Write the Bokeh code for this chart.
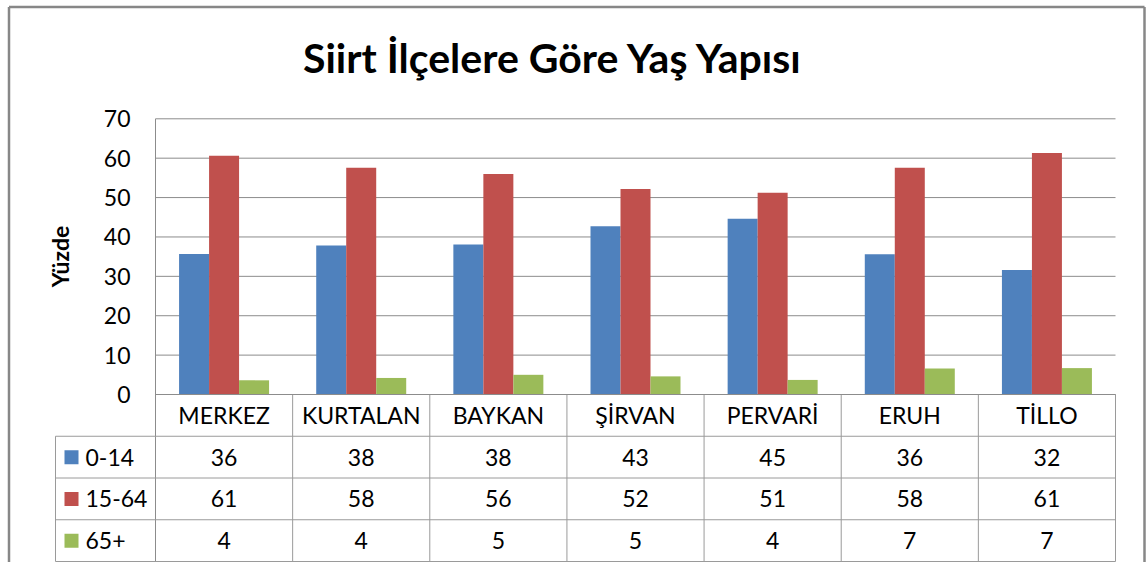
from bokeh.plotting import figure
from bokeh.models import Range1d
from bokeh.embed import file_html
from bokeh.resources import INLINE
from bokeh.core.properties import value

# ---------------- data ----------------
title_text = "Siirt İlçelere Göre Yaş Yapısı"
y_label = "Yüzde"
districts = ["MERKEZ", "KURTALAN", "BAYKAN", "ŞİRVAN", "PERVARİ", "ERUH", "TİLLO"]
series_names = ["0-14", "15-64", "65+"]
age_0_14 = [35.7, 37.8, 38.1, 42.7, 44.6, 35.6, 31.6]
age_15_64 = [60.6, 57.6, 56.0, 52.2, 51.2, 57.6, 61.3]
age_65_plus = [3.6, 4.2, 5.0, 4.6, 3.7, 6.6, 6.7]
y_ticks = [0, 10, 20, 30, 40, 50, 60, 70]
colors = ["#4F81BD", "#C0504D", "#9BBB59"]

series_values = [age_0_14, age_15_64, age_65_plus]

# ---------------- layout (pixels) ----------------
W, H = 1146, 562
OFF = 0
PL, PR, PT, PB = 155, 1115, 118.3, 394   # plot area in picture px (PT at y=70, PB at y=0)
TABLE_LEFT = 55
TROW = 41.75
YMAX = 70
COL = (PR - PL) / len(districts)
VAL = (PB - PT) / YMAX


def X(px):
    return (px - PL) / COL


def Y(py):
    return (PB - py) / VAL


p = figure(width=W, height=H, output_backend="svg", toolbar_location=None,
           x_axis_type=None, y_axis_type=None, min_border=0,
           x_range=Range1d(X(OFF), X(OFF + W)), y_range=Range1d(Y(OFF + H), Y(OFF)))
p.outline_line_color = None
p.background_fill_color = "white"
p.border_fill_color = "white"

FONT = value("Lato")
GRID = "#8C8C8C"
TLINE = "#9A9A9A"
BORDER = "#878787"

n = len(districts)
centers = [i + 0.5 for i in range(n)]

# chart-area border (left, top, right)
bl, bt, br, bb = X(8.5), Y(6.5), X(1144), Y(OFF + H + 10)
p.segment(x0=[bl, bl, br], x1=[bl, br, br], y0=[bb, bt, bt], y1=[bt, bt, bb],
          line_color=BORDER, line_width=2.5)

# gridlines
p.segment(x0=[0] * len(y_ticks), x1=[n] * len(y_ticks), y0=y_ticks, y1=y_ticks,
          line_color=GRID, line_width=1)

# bars
bar_w = 30 / COL
for k, (vals, col) in enumerate(zip(series_values, colors)):
    off = (k - 1) * bar_w
    p.vbar(x=[c + off for c in centers], top=vals, bottom=0, width=bar_w,
           fill_color=col, line_color=None)

# y tick labels
p.text(x=[X(130)] * len(y_ticks), y=y_ticks, text=[str(t) for t in y_ticks],
       text_align="right", text_baseline="middle", text_font=FONT,
       text_font_size="23px", text_color="#000000")

# y axis title
p.text(x=[X(59)], y=[Y(256)], text=[y_label], angle=1.5707963,
       text_align="center", text_baseline="middle", text_font=FONT,
       text_font_size="23px", text_font_style="bold", text_color="#000000")

# title
p.text(x=[X(553)], y=[Y(57)], text=[title_text], text_align="center",
       text_baseline="middle", text_font=FONT, text_font_size="41px",
       text_font_style="bold", text_color="#000000")

# ---------------- data table ----------------
row_bounds = [Y(PB + k * TROW) for k in range(5)]
bottom = row_bounds[-1]
# vertical axis line (plot + table)
p.segment(x0=[0], x1=[0], y0=[YMAX], y1=[bottom], line_color=GRID, line_width=1)
# column separators
p.segment(x0=list(range(1, n + 1)), x1=list(range(1, n + 1)),
          y0=[0] * n, y1=[bottom] * n, line_color=TLINE, line_width=1)
# left edge of label column
p.segment(x0=[X(TABLE_LEFT)], x1=[X(TABLE_LEFT)], y0=[row_bounds[1]], y1=[bottom],
          line_color=TLINE, line_width=1)
# horizontal lines
p.segment(x0=[0], x1=[n], y0=[0], y1=[0], line_color=GRID, line_width=1)
p.segment(x0=[X(TABLE_LEFT)] * 4, x1=[n] * 4, y0=row_bounds[1:], y1=row_bounds[1:],
          line_color=TLINE, line_width=1)

# header: district names
hdr_y = (row_bounds[0] + row_bounds[1]) / 2
p.text(x=centers, y=[hdr_y] * n, text=districts, text_align="center",
       text_baseline="middle", text_font=FONT, text_font_size="23px",
       text_color="#000000")

# series rows
for k, (name, vals, col) in enumerate(zip(series_names, series_values, colors)):
    ry = (row_bounds[k + 1] + row_bounds[k + 2]) / 2
    p.text(x=centers, y=[ry] * n, text=[f"{v:.0f}" for v in vals],
           text_align="center", text_baseline="middle", text_font=FONT,
           text_font_size="23px", text_color="#000000")
    p.scatter(x=[X(71)], y=[ry], marker="square", size=14,
              fill_color=col, line_color=None)
    p.text(x=[X(85)], y=[ry], text=[name], text_align="left",
           text_baseline="middle", text_font=FONT, text_font_size="23px",
           text_color="#000000")

open("out.html", "w").write(file_html(p, INLINE))
